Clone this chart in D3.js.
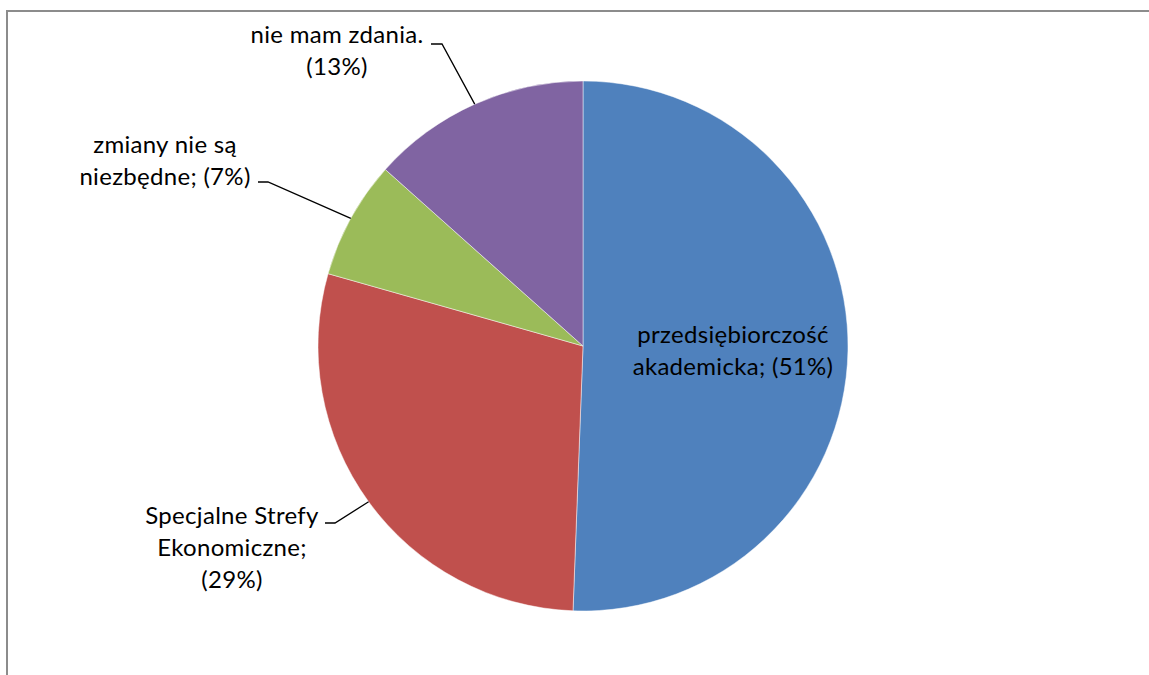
<!DOCTYPE html>
<html><head><meta charset="utf-8">
<script src="https://cdn.jsdelivr.net/npm/d3@7"></script>
<style>html,body{margin:0;padding:0;background:#fff;overflow:hidden}</style>
</head><body>
<svg id="c" width="1149" height="675"></svg>
<script>
const categories = ["przedsiębiorczość akademicka", "Specjalne Strefy Ekonomiczne", "zmiany nie są niezbędne", "nie mam zdania."];
const values = [50.6, 28.8, 7.2, 13.4];
const labelLines = [
  ["przedsiębiorczość", "akademicka; (51%)"],
  ["Specjalne Strefy", "Ekonomiczne;", "(29%)"],
  ["zmiany nie są", "niezbędne; (7%)"],
  ["nie mam zdania.", "(13%)"]
];
const colors = ["#4F81BD", "#C0504D", "#9BBB59", "#8064A2"];

// layout (label placement)
const cx = 583, cy = 346, R = 265;
const fontSize = 24, lineH = 32;
const labelLayout = [
  {x: 733, y: 335, inside: true},
  {x: 232, y: 516, lx: 325, ly: 523, hx: 335},
  {x: 165, y: 145, lx: 258, ly: 182, hx: 268},
  {x: 337, y: 35, lx: 431, ly: 44, hx: 442}
];

const svg = d3.select("#c");
svg.append("rect").attr("x", 7).attr("y", 11).attr("width", 1300).attr("height", 800)
  .attr("fill", "#fff").attr("stroke", "#8c8c8c").attr("stroke-width", 2);

const pie = d3.pie().sort(null).value(d => d);
const arcs = pie(values);
const arc = d3.arc().innerRadius(0).outerRadius(R);

const g = svg.append("g").attr("transform", `translate(${cx},${cy})`);
g.selectAll("path").data(arcs).join("path")
  .attr("d", arc).attr("fill", (d, i) => colors[i])
  .attr("stroke", "#ffffff").attr("stroke-width", 0.8).attr("stroke-opacity", 0.6);

const font = "Lato, 'Open Sans', sans-serif";
arcs.forEach((a, i) => {
  const L = labelLayout[i];
  const lines = labelLines[i];
  const t = svg.append("text").attr("font-family", font).attr("font-size", fontSize)
    .attr("letter-spacing", 0.3).attr("fill", "#000").attr("text-anchor", "middle");
  lines.forEach((ln, k) => {
    t.append("tspan").attr("x", L.x).attr("y", L.y + k * lineH).attr("dy", "0.35em").text(ln);
  });
  if (!L.inside) {
    const mid = (a.startAngle + a.endAngle) / 2;
    const ex = cx + R * Math.sin(mid), ey = cy - R * Math.cos(mid);
    svg.append("polyline")
      .attr("points", `${L.lx},${L.ly} ${L.hx},${L.ly} ${ex},${ey}`)
      .attr("fill", "none").attr("stroke", "#000").attr("stroke-width", 1.3);
  }
});
</script>
</body></html>
